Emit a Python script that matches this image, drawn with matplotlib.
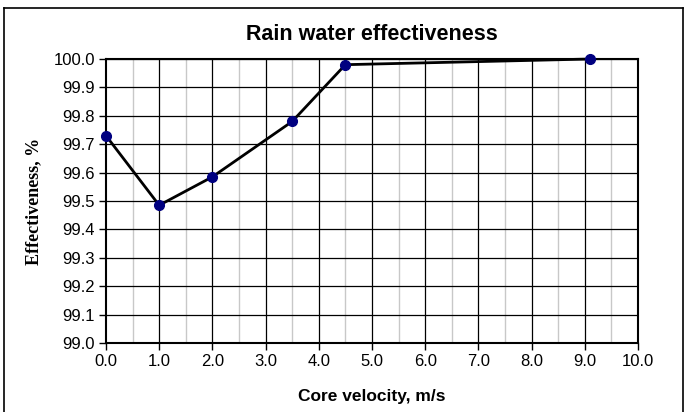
import matplotlib.pyplot as plt
from matplotlib.lines import Line2D
import numpy as np

velocity = [0.0, 1.0, 2.0, 3.5, 4.5, 9.1]
effectiveness = [99.73, 99.485, 99.585, 99.78, 99.98, 100.0]

plt.rcParams['font.family'] = ['Liberation Sans', 'DejaVu Sans']

fig = plt.figure(figsize=(6.86, 4.12), dpi=100)
ax = fig.add_axes([0.1545, 0.1675, 0.7755, 0.6893])

# grid
for x in np.arange(0.5, 10, 1.0):
    ax.axvline(x, color='#c8c8c8', lw=1.0, zorder=1)
for x in np.arange(1, 10, 1.0):
    ax.axvline(x, color='black', lw=0.9, zorder=1)
for y in np.arange(99.1, 100.0, 0.1):
    ax.axhline(y, color='black', lw=0.9, zorder=1)

ax.plot(velocity, effectiveness, color='black', lw=2.0, marker='o',
        markersize=7, markerfacecolor='#000080', markeredgecolor='#000080',
        zorder=3, clip_on=False)

ax.set_xlim(0, 10)
ax.set_ylim(99.0, 100.0)
ax.set_xticks(np.arange(0, 10.01, 1.0))
ax.set_xticklabels([f'{v:.1f}' for v in np.arange(0, 10.01, 1.0)])
ax.set_yticks(np.arange(99.0, 100.001, 0.1))
ax.set_yticklabels([f'{v:.1f}' for v in np.arange(99.0, 100.001, 0.1)])
ax.tick_params(direction='out', length=5, width=1, labelsize=12, pad=3)
for s in ax.spines.values():
    s.set_linewidth(1.5)

ax.set_title('Rain water effectiveness', fontsize=15.5, fontweight='bold', pad=14)
ax.set_xlabel('Core velocity, m/s', fontsize=12.5, fontweight='bold', labelpad=14)
ax.set_ylabel('Effectiveness, %', fontsize=13, fontweight='bold',
              family='Liberation Serif', labelpad=8)

# outer chart frame
l, r, t, b = 4 / 686, 683 / 686, 1 - 8 / 412, 0.0
for xs, ys in [([l, r], [t, t]), ([l, l], [b, t]), ([r, r], [b, t])]:
    fig.add_artist(Line2D(xs, ys, color='black', lw=1.2, transform=fig.transFigure))

plt.savefig('out.png', dpi=100)
